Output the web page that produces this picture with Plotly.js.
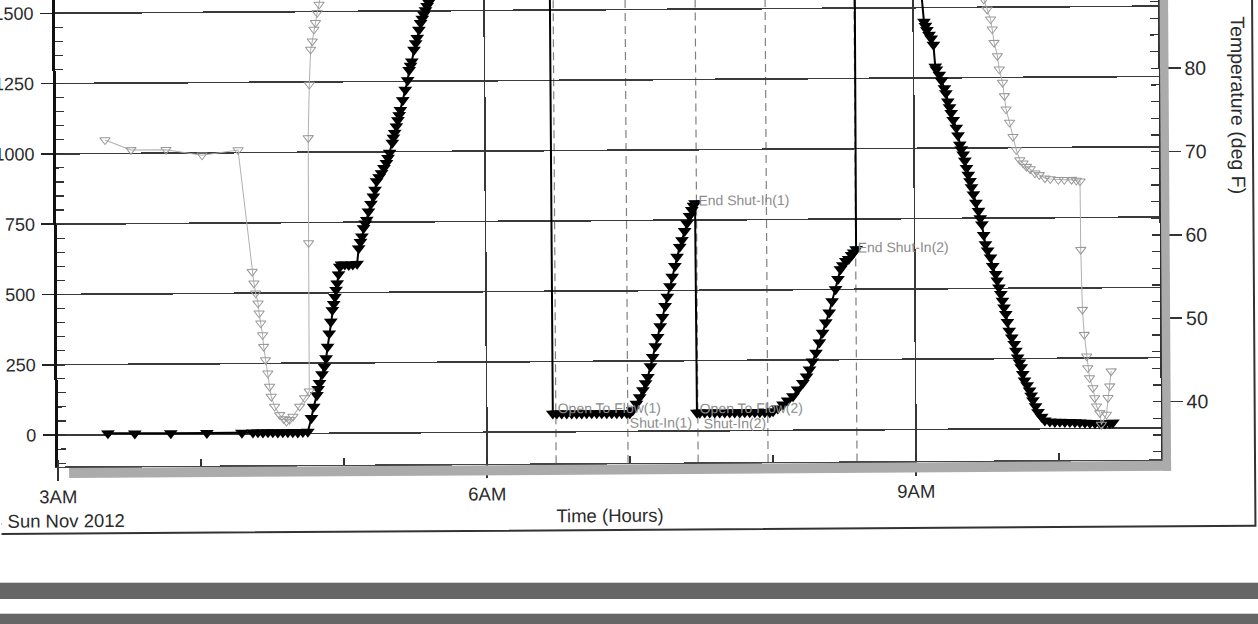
<!DOCTYPE html>
<html><head><meta charset="utf-8">
<script src="https://cdn.plot.ly/plotly-3.0.1.min.js"></script>
<style>
html,body{margin:0;padding:0;background:#fff;overflow:hidden;width:1258px;height:624px;}
#wrap{position:absolute;left:0;top:-40px;width:1258px;height:664px;transform:rotate(-0.37deg);transform-origin:608px 340px;}
#chart{width:1258px;height:664px;}
.bar{position:absolute;left:0;width:1258px;background:#666;border-top:1px solid #d0d0d0;}
</style></head><body>
<div id="wrap"><div id="chart"></div></div>
<div class="bar" style="top:582px;height:16px"></div>
<div class="bar" style="top:613px;height:11px"></div>
<script>
// ---- data (hours after midnight, psi / deg F) ----
const pressureHours = [3.350,3.538,3.790,4.042,4.287,
 4.364,4.399,4.434,4.469,4.503,4.538,4.573,4.608,4.643,4.678,4.713,4.748,
 4.774,4.790,4.813,4.822,4.832,4.850,4.867,4.879,4.890,4.902,4.914,4.925,4.935,4.944,4.952,4.960,4.970,4.979,
 4.991,5.014,5.042,5.070,5.100,
 5.112,5.125,5.135,5.147,5.160,5.170,5.182,5.200,5.217,5.229,5.240,5.258,5.275,5.292,5.310,5.321,5.333,5.352,5.360,5.369,5.381,5.392,5.401,5.410,5.427,5.445,5.462,5.473,5.483,5.492,5.508,5.520,5.531,5.543,5.555,5.567,5.578,5.590,5.601,5.613,5.625,
 5.700,5.850,6.300,6.460,
 6.462,6.490,6.524,6.559,6.594,6.629,6.664,6.699,6.734,6.769,6.804,6.839,6.874,6.909,6.944,6.979,
 7.000,7.021,7.047,7.070,7.093,7.112,7.128,7.147,7.163,7.182,7.198,7.217,7.233,7.252,7.268,7.287,7.303,7.322,7.338,7.357,7.373,7.392,7.408,7.427,7.443,7.455,7.466,
 7.470,7.490,7.524,7.559,7.594,7.629,7.664,7.699,7.734,7.769,7.804,7.839,7.874,7.909,7.944,7.979,8.002,
 8.035,8.072,8.105,8.142,8.175,8.212,8.238,8.259,8.280,8.305,8.329,8.352,8.375,8.399,8.420,8.445,8.462,8.480,8.497,8.518,8.538,8.559,8.573,8.590,
 8.593,8.800,9.030,
 9.075,9.085,9.095,9.110,9.125,9.140,9.152,9.160,9.180,9.195,9.215,9.225,9.238,9.250,9.261,9.275,9.296,9.308,9.320,9.330,9.343,9.355,9.366,9.378,9.390,9.400,9.413,9.430,9.448,9.460,9.471,9.483,9.495,9.510,9.530,9.545,9.565,9.576,9.587,9.600,9.611,9.622,9.634,9.645,9.657,9.675,9.692,9.703,9.715,9.727,9.739,9.750,9.762,9.780,9.797,9.808,9.820,9.838,9.855,9.880,9.902,
 9.937,9.972,10.007,10.042,10.077,10.112,10.147,10.182,10.217,10.252,10.287,10.322,10.357,10.378];
const pressurePsi = [5,4,4,4,4,
 5,5,4,5,5,4,5,5,5,4,5,6,
 55,95,136,158,179,210,237,267,308,355,397,438,460,485,510,533,565,592,
 600,600,598,600,602,
 657,680,699,729,745,758,788,815,841,865,895,910,924,942,960,978,996,1032,1050,1067,1090,1112,1130,1148,1183,1220,1254,1290,1305,1320,1362,1385,1404,1433,1457,1472,1487,1502,1517,1530,1541,
 1660,1700,1715,1718,
 65,65,65,65,65,65,65,65,65,65,65,65,65,65,65,65,
 64,75,98,121,146,171,193,231,264,302,335,373,406,445,478,515,549,587,620,655,679,711,739,765,786,801,810,
 65,65,65,65,65,65,65,65,65,65,65,65,65,65,65,65,68,
 78,92,106,121,145,168,191,216,244,275,312,346,383,418,458,501,537,572,586,601,608,622,631,643,
 1720,1730,1715,
 1450,1435,1420,1403,1390,1368,1290,1280,1261,1240,1213,1195,1166,1145,1125,1100,1072,1045,1012,995,977,955,929,905,882,860,835,805,776,750,728,690,657,635,610,580,551,528,503,480,456,432,409,380,349,325,302,278,254,236,219,195,172,155,136,118,101,80,59,42,29,
 25,24,24,23,23,22,21,20,19,18,17,17,18,20];

const tempHours = [3.343,3.524,3.769,4.021,4.273,
 4.366,4.378,4.390,4.406,4.413,4.424,4.436,4.443,4.455,4.471,4.483,4.494,4.517,4.552,4.580,4.599,4.620,4.645,4.692,4.727,4.760,
 4.762,4.764,4.774,4.785,4.797,4.809,4.820,4.832,4.846,4.900,
 9.450,9.494,9.517,9.541,9.552,9.564,9.587,9.599,9.622,9.634,9.645,9.669,
 9.692,9.715,9.739,9.762,9.785,9.811,9.844,9.874,9.914,9.951,10.007,10.049,10.100,10.133,10.159,
 10.161,10.170,10.182,10.198,10.205,10.217,10.240,10.252,10.264,10.287,10.298,10.333,10.345,10.357,10.368];
const tempDegF = [72.2,71.0,71.0,70.3,70.9,
 56.3,54.9,53.7,52.5,51.3,50.1,48.7,47.3,45.7,44.1,42.5,41.3,40.1,39.1,38.6,38.3,38.5,38.9,40.1,41.1,41.9,
 59.7,72.3,78.7,82.9,83.9,85.3,86.1,87.3,88.3,95,
 95,88.4,87.2,86.0,84.8,83.2,81.6,80.0,78.4,76.8,75.2,73.6,
 71.9,70.3,69.1,68.7,68.3,68.0,67.5,67.3,66.9,66.8,66.7,66.7,66.7,66.6,66.5,
 58.3,51.1,48.1,45.5,44.1,42.9,41.7,40.5,39.5,38.7,37.3,38.5,40.5,41.9,43.7];

const eventHours = [6.483, 6.986, 7.476, 7.965, 8.587];
const eventLabels = ['Open To Flow(1)','Shut-In(1)','End Shut-In(1)','Open To Flow(2)','Shut-In(2)','End Shut-In(2)'];
const eventLabelHours = [6.483, 6.986, 7.476, 7.476, 7.965, 8.587];

const xTickVals = [3, 6, 9];
const xTickText = ['3AM<br>4 Sun Nov 2012', '6AM', '9AM'];
const pressureTicks = [0, 250, 500, 750, 1000, 1250, 1500];
const tempTicks = [40, 50, 60, 70, 80];

// ---- layout ----
const FONT = 'Liberation Sans, Arial, sans-serif';
const TXT = '#2b2b2b';
const labelPlace = [ // y (psi), xanchor
 [85,'left'],[30,'left'],[821,'left'],[81,'left'],[27,'right'],[650,'left']];

const shapes = eventHours.map(h => ({type:'line', xref:'x', yref:'paper', x0:h, x1:h, y0:0, y1:1,
  layer:'below', line:{color:'#808080', width:1.2, dash:'8px,5px'}}));
// drop shadow of the plot frame and the outer frame
shapes.push({type:'rect', xref:'paper', yref:'paper', x0:0.00997, x1:1.00907, y0:-0.0238, y1:-0.0031, fillcolor:'#ababab', line:{width:0}});
shapes.push({type:'rect', xref:'paper', yref:'paper', x0:1.0014, x1:1.00907, y0:-0.0238, y1:1.05, fillcolor:'#ababab', line:{width:0}});
shapes.push({type:'rect', xref:'paper', yref:'paper', x0:-0.2, x1:1.0852, y0:-0.1387, y1:1.2, fillcolor:'rgba(0,0,0,0)', line:{color:'#333', width:2}});

const annotations = eventLabels.map((t,i) => ({text:t, xref:'x', yref:'y', x:eventLabelHours[i], y:labelPlace[i][0],
  xanchor:labelPlace[i][1], yanchor:'middle', showarrow:false, font:{family:FONT, size:14, color:'#8c8c8c'}}));
annotations.push({text:'Time (Hours)', xref:'paper', yref:'paper', x:0.5, y:0, yanchor:'middle', yshift:-52,
  showarrow:false, font:{family:FONT, size:18.5, color:TXT}});
annotations.push({text:'Temperature (deg F)', xref:'paper', yref:'paper', x:1, xshift:79.5, y:0.733, xanchor:'center', yanchor:'middle',
  textangle:90, showarrow:false, font:{family:FONT, size:19.5, color:TXT}});

const traces = [
 {x:tempHours, y:tempDegF, yaxis:'y2', type:'scatter', mode:'lines+markers',
  line:{color:'#b0b0b0', width:1}, marker:{symbol:'triangle-down-open', size:9, color:'#999', line:{width:1}}},
 {x:pressureHours, y:pressurePsi, type:'scatter', mode:'lines+markers',
  line:{color:'#000', width:2}, marker:{symbol:'triangle-down', size:12, color:'#000', line:{width:0}}}
];

const layout = {
 width:1258, height:664, margin:{l:57, r:98, t:20, b:161},
 paper_bgcolor:'#fff', plot_bgcolor:'#fff', showlegend:false,
 font:{family:FONT, color:TXT},
 xaxis:{range:[3,10.713], tickmode:'array', tickvals:xTickVals, ticktext:xTickText, ticklabeloverflow:'allow',
  showgrid:true, gridcolor:'#383838', gridwidth:1.6, zeroline:false,
  showline:true, linecolor:'#444', linewidth:1.5,
  ticks:'outside', ticklen:13, tickwidth:1.5, tickcolor:'#333',
  minor:{tickmode:'linear', tick0:3, dtick:1, ticks:'inside', ticklen:7, tickwidth:1.2, tickcolor:'#333', showgrid:false},
  tickfont:{family:FONT, size:18.5, color:TXT}, fixedrange:true},
 yaxis:{range:[-112,1605.6], tickmode:'array', tickvals:pressureTicks, ticklabeloverflow:'allow', ticklabelstandoff:3,
  showgrid:true, gridcolor:'#3a3a3a', gridwidth:1.6, zeroline:true, zerolinecolor:'#3a3a3a', zerolinewidth:1.6,
  showline:true, linecolor:'#111', linewidth:3,
  ticks:'outside', ticklen:12, tickwidth:1.5, tickcolor:'#222',
  minor:{tickmode:'linear', tick0:0, dtick:50, ticks:'inside', ticklen:8, tickwidth:1.2, tickcolor:'#333', showgrid:false},
  tickfont:{family:FONT, size:18, color:TXT}, fixedrange:true},
 yaxis2:{overlaying:'y', side:'right', range:[33.07,91.01], tickmode:'array', tickvals:tempTicks,
  showgrid:false, zeroline:false, showline:true, linecolor:'#333', linewidth:2,
  ticks:'outside', ticklen:20, tickwidth:1.5, tickcolor:'#333',
  minor:{tickmode:'linear', tick0:0, dtick:2, ticks:'inside', ticklen:8, tickwidth:1.2, tickcolor:'#333'},
  tickfont:{family:FONT, size:19.5, color:TXT}, fixedrange:true},
 shapes:shapes, annotations:annotations
};

Plotly.newPlot('chart', traces, layout, {staticPlot:true, displayModeBar:false});
</script>
</body></html>
